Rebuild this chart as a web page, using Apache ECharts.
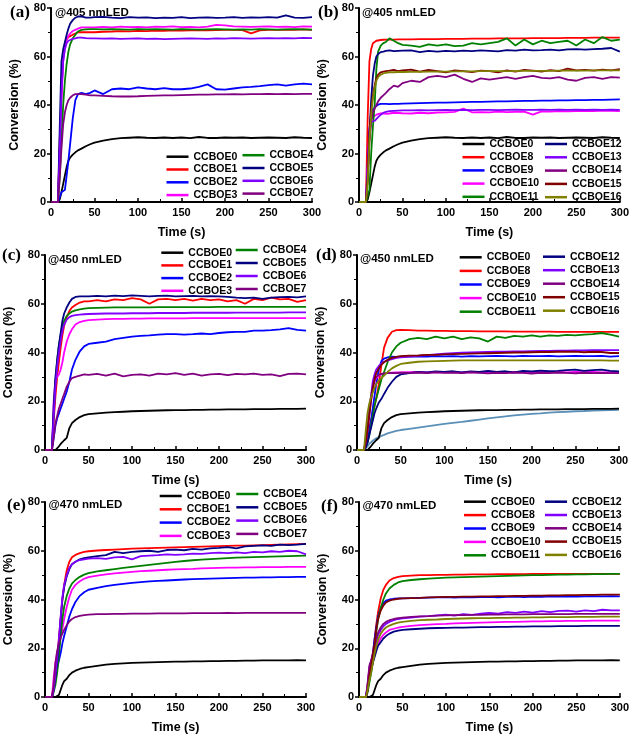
<!DOCTYPE html>
<html><head><meta charset="utf-8">
<script src="https://cdn.jsdelivr.net/npm/echarts@6/dist/echarts.min.js"></script>
<style>html,body{margin:0;padding:0;background:#fff}#c{width:632px;height:735px}</style>
</head><body><div id="c"></div>
<script>
// time points (s) shared by all curves
const T = [0,8,10,12,14,16,18,20,22,25,28,31,35,40,45,50,
  60,70,80,90,100,110,120,130,140,150,160,170,180,190,200,210,220,230,240,250,260,270,280,290,300];
const xTicks = [0,50,100,150,200,250,300];
const yTicks = [0,20,40,60,80];

// ---- @405 nm ----
const ccboe0_405 = [0,0,1,4,7.5,11,14.5,17,18.3,19.5,20.5,21.3,22,23,23.8,24.5,
  25.3,25.9,26.3,26.5,26.7,26.5,26.4,26.6,26.4,26.6,26.3,26.8,26.4,26.4,26.6,26.5,26.6,26.4,26.5,26.6,26.5,26.4,26.7,26.5,26.4];
const a_CCBOE1 = [0,0,25,45,60,65,67,68,68.5,69,69.5,70,70,70,70,70,
  70.2,70.3,70.5,70.4,70.6,70.5,70.7,70.6,70.8,70.7,70.8,70.9,70.8,70.9,71,71,70.9,69.5,70.8,71,71,71.1,71,71.2,71];
const a_CCBOE2 = [0,0,2,4,4.5,5,11,17,24,34.5,42,44.5,45,44.5,45,46,
  44.5,46.5,46.8,46.5,47.3,46.8,46.5,47,46.5,46.5,46.8,47.5,48.5,46.5,46.3,46.8,47.3,47.5,47.8,48.2,48.5,48,48.5,48.8,48.5];
const a_CCBOE3 = [0,0,22,42,58,64,67,68.5,69.5,70.5,71,71.5,72,72,72,72,
  72.2,72,72.3,72.1,72.2,72,72.3,72.2,72.4,72.1,72.2,72,72.3,73,72.8,72.4,72.3,72.2,72.3,72.4,72.2,72.3,72.1,72.4,72.3];
const a_CCBOE4 = [0,0,10,25,40,50,57,62,65,67.5,69,70.3,71,71.2,71.3,71.3,
  71.2,71.3,71.2,71.1,71.3,71.2,71.3,71.2,71.1,71.3,71.2,71.1,71.2,71.3,71.2,71.1,71.2,71.1,71.3,71.2,71.1,71.2,71.3,71.2,71.1];
const a_CCBOE5 = [0,0,30,58,63,66,69,71.5,73.5,75,76,76.5,76.5,76,76,76.2,
  76.3,76,75.8,76.2,76,76.1,75.8,76,75.9,76.2,75.8,76,76.1,75.9,76,76.2,75.9,76.1,76,76.2,76,77,76,75.9,76.2];
const a_CCBOE6 = [0,0,20,45,58,63,65.5,66.5,67,67.3,67.5,67.8,67.8,67.6,67.5,67.5,
  67.4,67.5,67.3,67.4,67.5,67.3,67.4,67.2,67.3,67.4,67.5,67.4,67.3,67.5,67.4,67.6,67.5,67.4,67.5,67.6,67.5,67.6,67.5,67.7,67.6];
const a_CCBOE7 = [0,0,10,22,32,37,40,42,43,44,44.5,44.5,44.5,44.3,44,44,
  43.8,43.6,43.5,43.5,43.6,43.8,43.9,44,44,44.1,44.2,44.3,44.3,44.4,44.4,44.5,44.4,44.5,44.5,44.6,44.5,44.6,44.5,44.6,44.6];

const b_CCBOE8 = [0,0,35,58,63,65.5,66.3,66.5,66.6,66.8,66.9,67,67,67,67.1,67.1,
  67.1,67.2,67.2,67.2,67.3,67.3,67.3,67.4,67.4,67.4,67.5,67.5,67.5,67.5,67.6,67.6,67.6,67.6,67.7,67.7,67.7,67.8,67.8,67.8,67.8];
const b_CCBOE9 = [0,0,15,30,36,38,39,39.8,40.2,40.5,40.5,40.5,40.4,40.5,40.5,40.6,
  40.7,40.8,40.9,41,41,41.1,41.2,41.3,41.3,41.4,41.5,41.5,41.6,41.7,41.7,41.8,41.8,41.9,41.9,42,42,42.1,42.1,42.2,42.3];
const b_CCBOE10 = [0,0,15,30,34,35,35.5,36,36.2,36.5,36.5,36.3,36.5,36.8,36.7,36.6,
  36.5,36.8,36.6,36.9,37,37.2,38.5,37,37.1,37,37.3,37.1,37.2,37.3,36,37.4,37.3,37.5,37.4,37.5,37.6,37.5,37.7,37.6,37.5];
const b_CCBOE11 = [0,0,0,5,20,31,40,55,62,64.5,65.5,66,67.5,66.5,65.5,64.8,
  64.5,64,65,64.5,65,64.3,64.5,65.5,65,65.5,66,67.5,64.5,67,65,66.5,65.5,66,66.5,64.5,67,65.5,68,66.5,67];
const b_CCBOE12 = [0,0,10,28,42,52,57,60,61,61.8,62,62.3,62.5,62.2,62.3,62.4,
  62.5,61.8,62.3,62,62.3,62.1,62.4,62.2,62.5,62.3,62.1,62.6,62.4,62.8,62.5,62.6,62.8,62.5,62.9,63,62.8,63,63.2,63.5,62];
const b_CCBOE13 = [0,0,12,28,33,33.5,33.5,34,35,36,36.8,37.2,37.5,37.6,37.7,37.8,
  37.8,37.9,37.8,37.9,38,37.9,38,37.9,38,38,37.9,38,38.1,38,38,38.1,38,38.1,38,38.1,38,38.1,38,38.1,38];
const b_CCBOE14 = [0,0,10,25,33,37,38.5,40,41.5,43,44,45,46.5,48,47.5,49,
  50,49.5,51.5,52,51.5,52.5,50.8,49.5,51,50.5,51,51.5,50.8,51.5,52,51.2,51,51.5,50.5,50,51.2,51.5,50.8,51.5,51.3];
const b_CCBOE15 = [0,0,10,28,38,44,48,51,52.5,53.5,53.8,54,54.2,54.5,54,54.3,
  54.6,53.8,54.5,54,53.5,54.3,54,53.6,54.2,54,53.5,54.3,53.8,54.5,54.2,53.8,54.4,54,55,54.3,54.5,54.2,54.6,54.3,54.8];
const b_CCBOE16 = [0,0,8,25,36,43,47,50,51.5,52.5,53,53.3,53.5,53.5,53.6,53.6,
  53.7,53.7,53.8,53.8,53.8,53.9,53.9,53.9,54,54,54,54,54,54.1,54.1,54.1,54.1,54.2,54.2,54.2,54.2,54.3,54.3,54.3,54.3];

// ---- @450 nm ----
const ccboe0_450 = [0,0,0,0,0.5,1.5,2.5,3.2,4,5,9,11,12.3,13.5,14.3,14.7,
  15,15.3,15.5,15.7,15.9,16,16.1,16.2,16.3,16.4,16.4,16.5,16.5,16.6,16.6,16.7,16.7,16.7,16.8,16.8,16.8,16.9,16.9,16.9,17];
const c_CCBOE1 = [0,0,12,22,30,36,42,47,51,54.5,57,58.5,59.5,60.5,61,61,
  61.5,61,61.8,61.5,62.3,61.8,60,61.8,62,61.5,62,61.3,62,61.5,61.8,61,61.5,60,62,61.5,62.5,61.8,62,60.8,61.5];
const c_CCBOE2 = [0,0,5,10,13,15,17,19,21,24,28,33,37,40.5,42.5,43.5,
  44,44.5,45.5,46,46.5,46.8,47,47.3,47.5,47.5,47.3,47.5,47.8,47.5,48,48.3,48.5,48.5,49,49,49.2,49.5,50,49.3,49];
const c_CCBOE3 = [0,0,20,29,30,31,33,36,40,44.5,47.5,49.5,51.5,52.5,53,53.3,
  53.5,53.7,53.8,53.8,53.9,53.9,54,54,54,54,54,54.1,54.1,54.1,54.1,54.1,54.1,54.1,54.1,54.1,54.1,54.1,54.1,54.1,54.1];
const c_CCBOE4 = [0,0,15,28,37,43,47,51,53,55,56,56.8,57.3,57.7,58,58.2,
  58.3,58.4,58.5,58.5,58.5,58.5,58.5,58.6,58.6,58.6,58.6,58.6,58.6,58.6,58.7,58.7,58.7,58.7,58.7,58.7,58.7,58.7,58.7,58.7,58.7];
const c_CCBOE5 = [0,0,18,30,37,43,48,53,56,58.5,60.5,62,62.8,63,63,63,
  63.2,63,63.3,63.1,63.4,63.2,63,63.2,63.3,63,63.1,63.2,63,63.1,63,62.8,62.5,62.3,62.5,62,62.5,62.7,62.8,62.6,63];
const c_CCBOE6 = [0,0,14,26,34,40,45,49,51.5,53.5,54.5,55,55.3,55.5,55.7,55.8,
  55.9,56,56,56,56.1,56.1,56.1,56.2,56.2,56.2,56.2,56.3,56.3,56.3,56.3,56.3,56.4,56.4,56.4,56.4,56.4,56.4,56.5,56.5,56.5];
const c_CCBOE7 = [0,0,5,11,14,17,19,21,23,26,28,29.5,30,30.5,31,30.8,
  31.2,30.5,31.3,30.2,30.8,31,30.5,31.3,31,31.5,30.8,31.3,30.5,31,31.2,30.7,31.2,31,31.3,30.8,31,30.3,31.2,31.3,31];

const d_CCBOE8 = [0,0,3,6,9,12,15,18,21,27,35,42,46,48.5,49.2,49.3,
  49.2,49,49,48.9,48.9,48.8,48.8,48.8,48.7,48.7,48.7,48.7,48.6,48.6,48.6,48.6,48.6,48.5,48.5,48.5,48.5,48.5,48.5,48.5,48.5];
const d_CCBOE9 = [0,0,2,5,8,12,17,22,27,33,36.5,37.5,38,38.3,38.2,38.3,
  38.3,38.4,38.3,38.5,38.4,38.5,38.3,38.5,38.4,38.5,38.6,38.5,38.4,38.6,38.5,38.5,38.6,38.4,38.5,38.6,38.5,38.5,38.6,38.3,38.5];
const d_CCBOE10 = [0,0,3,8,14,20,25,28,29.5,30.5,31,31.3,31.5,31.7,31.8,31.8,
  31.9,32,31.8,32,31.9,32,31.8,32,31.9,32.1,32,31.9,32,31.8,32,32.1,31.9,32,31.8,32,31.9,32,31.8,31.9,32];
const d_CCBOE11 = [0,0,1,3,6,10,14,18,21,25,29,32,36,40,42.5,44,
  45.5,46,45.5,46.5,45.8,46.5,45.5,46.2,45.8,44.5,46.5,46,46.8,46.5,47,46.5,47,46.8,47.2,47,47.3,47.5,48,47.3,46.5];
const d_CCBOE12 = [0,0,1,3,6,9,12,15,17,19.5,21,23,25.5,28,30,31,
  31.5,32,31.8,32.2,32,32.3,31.8,32.2,32,32.5,32,32.3,31.8,32.5,32.2,32.6,32.3,32.5,32.8,33,32.5,32.8,33,32.5,32.2];
const d_CCBOE13 = [0,0,3,8,15,22,28,31,33,34.5,35.5,36.2,36.8,37.3,37.8,38,
  38.3,38.6,38.9,39.2,39.5,39.7,39.9,40,40.1,40.2,40.3,40.4,40.5,40.5,40.6,40.7,40.7,40.8,40.8,40.9,40.9,41,41,41,41];
const d_CCBOE14 = [0,0,4,10,16,22,26,28.5,30,30.8,31.2,31.4,31.5,31.6,31.5,31.7,
  31.6,31.8,31.5,31.9,31.6,31.8,31.5,31.9,31.6,31.4,31.7,31.5,31.8,31.6,31.3,31.7,31.5,31.8,31.6,31.4,31.7,31.5,31.6,31.5,31.5];
const d_CCBOE15 = [0,0,3,8,14,20,25,29,31.5,33.5,35,36,37,37.8,38.2,38.5,
  38.7,38.8,39,39,39.2,39.3,39.4,39.5,39.6,39.7,39.8,39.9,40,40,40.1,40.2,40.2,40.3,40.3,40.4,40.1,40.3,40.2,39.8,39.8];
const d_CCBOE16 = [0,0,8,15,19,21.5,23.5,25.5,27,28.5,29.5,30.5,32,33.5,34.5,35.3,
  35.8,36.2,36.4,36.5,36.6,36.7,36.8,36.8,36.8,36.8,36.8,36.8,36.8,36.8,36.8,36.8,36.8,36.8,36.8,36.8,36.8,36.8,36.8,36.7,36.7];
const d_unlabelled = [0,0,0.5,1.5,2.5,3.2,3.8,4.3,4.8,5.3,5.8,6.2,6.8,7.3,7.8,8.2,
  8.7,9.2,9.7,10.2,10.7,11.1,11.5,12,12.5,13,13.4,13.8,14.2,14.5,14.8,15,15.3,15.5,15.7,15.9,16,16.2,16.3,16.4,16.5];

// ---- @470 nm ----
const ccboe0_470 = [0,0,0,0,0.3,0.8,1.5,5,6.5,7.5,9,10,10.8,11.5,12,12.3,
  12.8,13.3,13.6,13.8,14,14.1,14.2,14.3,14.4,14.5,14.5,14.6,14.6,14.7,14.7,14.8,14.8,14.9,14.9,15,15,15,15,15.1,15];
const e_CCBOE1 = [0,0,4,10,16,24,32,40,46,52,55.5,57.3,58.3,59,59.5,59.8,
  60.1,60.3,60.5,60.7,60.9,61,61.1,61.2,61.3,61.4,61.5,61.6,61.7,61.8,61.9,62,62.1,62.1,62.2,62.3,62.4,62.5,62.6,62.7,62.8];
const e_CCBOE2 = [0,0,3,8,12,15,18,22,25,29,33,36,39,41.5,43,44,
  44.8,45.5,46,46.4,46.8,47.1,47.4,47.6,47.8,48,48.2,48.4,48.5,48.6,48.7,48.8,48.9,49,49,49.1,49.1,49.2,49.2,49.3,49.3];
const e_CCBOE3 = [0,0,8,14,18,21,24,28,32,37,41,44,46,47.5,48.5,49.2,
  49.8,50.3,50.7,51,51.3,51.6,51.8,52,52.2,52.4,52.5,52.6,52.8,52.9,53,53.1,53.1,53.2,53.2,53.3,53.3,53.3,53.4,53.4,53.4];
const e_CCBOE4 = [0,0,2,5,10,17,25,32,37,41.5,44.5,46.5,48,49.3,50.2,50.8,
  51.5,52,52.5,53,53.4,53.8,54.2,54.6,55,55.4,55.8,56.1,56.4,56.6,56.8,57,57.2,57.3,57.4,57.5,57.6,57.7,57.8,57.9,58];
const e_CCBOE5 = [0,0,3,8,14,22,32,40,45,49.5,52.5,54.5,55.5,56.5,57,57.3,
  57.8,58.2,59.5,59,59.5,59.8,60,59.5,60.3,60.5,60.2,60.8,60.5,61,61.2,61.5,61,61.8,62,62.2,62,62.5,62.3,62.5,62.8];
const e_CCBOE6 = [0,0,3,9,16,24,33,41,46,50,53,54.5,55.5,56.2,56.5,56.8,
  57,56.7,57.3,57.5,56.5,57.8,58,58.2,58.5,58.3,58.5,58.8,58.7,59,59.2,59,59.3,59,59.5,59.3,59.8,59.5,60,59.8,58.5];
const e_CCBOE7 = [0,0,5,14,19,22,24.5,26,27.5,29.5,31,32,32.8,33.3,33.6,33.8,
  34,34,34.1,34.1,34.2,34.2,34.2,34.3,34.3,34.3,34.3,34.4,34.4,34.4,34.4,34.5,34.4,34.5,34.5,34.5,34.5,34.5,34.5,34.5,34.5];

const f_CCBOE8 = [0,0,4,10,14,18,24,30,35,40.5,44,46,47.8,48.8,49.3,49.6,
  49.8,50,50,50.1,50.1,50.2,50.2,50.3,50.3,50.3,50.4,50.4,50.4,50.4,50.5,50.5,50.5,50.5,50.5,50.5,50.5,50.5,50.5,50.5,50.5];
const f_CCBOE9 = [0,0,4,10,14,18,24,29,33,36.5,38.5,39.5,40,40.3,40.5,40.5,
  40.6,40.7,40.8,40.9,41,40.8,41,40.9,41,41.1,40.9,41.1,41.2,41,41.2,41.1,41.3,41.2,41.3,41.2,41.3,41.4,41.3,41.4,41.3];
const f_CCBOE10 = [0,0,5,12,14,15,17,20,22,24,25.5,26.5,27.5,28,28.5,28.8,
  29.2,29.5,29.7,29.9,30,30.2,30.3,30.4,30.5,30.6,30.7,30.8,30.8,30.9,31,31,31.1,31.1,31.2,31.2,31.2,31.3,31.3,31.3,31.3];
const f_CCBOE11 = [0,0,2,6,10,15,21,27,32,36.5,40,42.5,44.5,46,47,47.5,
  48,48.3,48.6,48.8,49,49.1,49.2,49.3,49.4,49.5,49.6,49.7,49.8,49.9,50,50,50.1,50.2,50.2,50.3,50.3,50.4,50.4,50.5,50.5];
const f_CCBOE12 = [0,0,3,8,11,14,16.5,19,21,22.5,24,25,26,26.8,27.2,27.5,
  27.8,28,28.2,28.3,28.4,28.5,28.5,28.6,28.7,28.7,28.8,28.8,28.9,28.9,29,29,29,29.1,29.1,29.1,29.2,29.2,29.2,29.2,29.2];
const f_CCBOE13 = [0,0,5,12,15,17,20,23,25.5,27.5,29,30,30.8,31.5,32,32.3,
  32.6,33,33.2,33.5,33.8,33.4,34,33.7,34.2,34.5,34.2,34.8,34.5,35,34.6,35.2,34.8,35.3,35.4,35,35.5,35.2,35.8,35.5,35.5];
const f_CCBOE14 = [0,0,6,13,15,18,21,24,26.5,28.5,30,30.8,31.5,32,32.4,32.6,
  32.9,33.1,33.2,33.4,33.5,33.6,33.6,33.7,33.7,33.8,33.8,33.9,33.9,33.9,34,34,34,34,34,34.1,34.1,34.1,34.1,34.1,34.1];
const f_CCBOE15 = [0,0,3,9,13,17,22,28,32,35.5,37.5,38.8,39.5,40,40.3,40.5,
  40.6,40.7,40.9,41,41.1,41.1,41.2,41.2,41.3,41.3,41.4,41.4,41.5,41.5,41.6,41.6,41.7,41.7,41.8,41.8,41.9,41.9,42,42,42];
const f_CCBOE16 = [0,0,3,7,10,14,18,21,23.5,26,27.5,28.5,29.3,30,30.5,30.8,
  31.2,31.5,31.7,31.8,32,32.1,32.2,32.3,32.4,32.4,32.5,32.5,32.6,32.6,32.7,32.7,32.8,32.8,32.8,32.9,32.9,32.9,33,33,33];

const COLORS = {
  CCBOE0:'#000000', CCBOE1:'#ff0000', CCBOE2:'#0000ff', CCBOE3:'#ff00ff',
  CCBOE4:'#008000', CCBOE5:'#000080', CCBOE6:'#8000ff', CCBOE7:'#800080',
  CCBOE8:'#ff0000', CCBOE9:'#0000ff', CCBOE10:'#ff00ff', CCBOE11:'#008000',
  CCBOE12:'#000080', CCBOE13:'#8000ff', CCBOE14:'#800080', CCBOE15:'#800000',
  CCBOE16:'#808000'
};

const panels = [
  {grid:{left:51, top:8, width:261, height:194}, label:'(a)', lx:10, ly:12.5, title:'@405 nmLED', tx:55, ty:12.5,
   series:[['CCBOE0',ccboe0_405],['CCBOE1',a_CCBOE1],['CCBOE2',a_CCBOE2],['CCBOE3',a_CCBOE3],['CCBOE4',a_CCBOE4],['CCBOE5',a_CCBOE5],['CCBOE6',a_CCBOE6],['CCBOE7',a_CCBOE7]],
   legends:[[['CCBOE0','CCBOE1','CCBOE2','CCBOE3'],193.5,156.7,12.8],[['CCBOE4','CCBOE5','CCBOE6','CCBOE7'],269.5,155.2,12.8]]},
  {grid:{left:359, top:8, width:261, height:194}, label:'(b)', lx:318, ly:12.5, title:'@405 nmLED', tx:362, ty:12.5,
   series:[['CCBOE0',ccboe0_405],['CCBOE8',b_CCBOE8],['CCBOE9',b_CCBOE9],['CCBOE10',b_CCBOE10],['CCBOE11',b_CCBOE11],['CCBOE12',b_CCBOE12],['CCBOE13',b_CCBOE13],['CCBOE14',b_CCBOE14],['CCBOE15',b_CCBOE15],['CCBOE16',b_CCBOE16]],
   legends:[[['CCBOE0','CCBOE8','CCBOE9','CCBOE10','CCBOE11'],489.5,144,13.2],[['CCBOE12','CCBOE13','CCBOE14','CCBOE15','CCBOE16'],572,144,13.3]]},
  {grid:{left:45, top:255, width:261, height:195}, label:'(c)', lx:2, ly:256, title:'@450 nmLED', tx:48, ty:260,
   series:[['CCBOE0',ccboe0_450],['CCBOE1',c_CCBOE1],['CCBOE2',c_CCBOE2],['CCBOE3',c_CCBOE3],['CCBOE4',c_CCBOE4],['CCBOE5',c_CCBOE5],['CCBOE6',c_CCBOE6],['CCBOE7',c_CCBOE7]],
   legends:[[['CCBOE0','CCBOE1','CCBOE2','CCBOE3'],188.3,252.7,12.7],[['CCBOE4','CCBOE5','CCBOE6','CCBOE7'],262.7,250,13]]},
  {grid:{left:357, top:255, width:262, height:195}, label:'(d)', lx:316, ly:256, title:'@450 nmLED', tx:360, ty:259,
   series:[['',d_unlabelled,'#5a8fb8'],['CCBOE0',ccboe0_450],['CCBOE8',d_CCBOE8],['CCBOE9',d_CCBOE9],['CCBOE10',d_CCBOE10],['CCBOE11',d_CCBOE11],['CCBOE12',d_CCBOE12],['CCBOE13',d_CCBOE13],['CCBOE14',d_CCBOE14],['CCBOE15',d_CCBOE15],['CCBOE16',d_CCBOE16]],
   legends:[[['CCBOE0','CCBOE8','CCBOE9','CCBOE10','CCBOE11'],486.7,257.3,13.6],[['CCBOE12','CCBOE13','CCBOE14','CCBOE15','CCBOE16'],570,256.7,13.5]]},
  {grid:{left:45, top:502, width:261, height:195}, label:'(e)', lx:7, ly:506, title:'@470 nmLED', tx:48.5, ty:505,
   series:[['CCBOE0',ccboe0_470],['CCBOE1',e_CCBOE1],['CCBOE2',e_CCBOE2],['CCBOE3',e_CCBOE3],['CCBOE4',e_CCBOE4],['CCBOE5',e_CCBOE5],['CCBOE6',e_CCBOE6],['CCBOE7',e_CCBOE7]],
   legends:[[['CCBOE0','CCBOE1','CCBOE2','CCBOE3'],186.7,496,13.3],[['CCBOE4','CCBOE5','CCBOE6','CCBOE7'],263.3,494,13.3]]},
  {grid:{left:359, top:502, width:261, height:195}, label:'(f)', lx:321, ly:507, title:'@470 nmLED', tx:362.5, ty:506,
   series:[['CCBOE0',ccboe0_470],['CCBOE8',f_CCBOE8],['CCBOE9',f_CCBOE9],['CCBOE10',f_CCBOE10],['CCBOE11',f_CCBOE11],['CCBOE12',f_CCBOE12],['CCBOE13',f_CCBOE13],['CCBOE14',f_CCBOE14],['CCBOE15',f_CCBOE15],['CCBOE16',f_CCBOE16]],
   legends:[[['CCBOE0','CCBOE8','CCBOE9','CCBOE10','CCBOE11'],491,501.7,13.4],[['CCBOE12','CCBOE13','CCBOE14','CCBOE15','CCBOE16'],572,501.7,13.3]]}
];

const SANS = '"Liberation Sans", Arial, sans-serif';
const grids=[], xAxes=[], yAxes=[], series=[], legends=[], graphics=[];
panels.forEach((p,i)=>{
  grids.push(Object.assign({containLabel:false}, p.grid));
  xAxes.push({type:'value', gridIndex:i, min:xTicks[0], max:xTicks[xTicks.length-1], interval:xTicks[1]-xTicks[0],
    name:'Time (s)', nameLocation:'middle', nameGap:24,
    nameTextStyle:{fontFamily:SANS, fontWeight:'bold', fontSize:12.5, color:'#000'},
    axisLine:{lineStyle:{color:'#000', width:2}}, axisTick:{inside:true, length:4, lineStyle:{width:1.5,color:'#000'}},
    minorTick:{show:true, splitNumber:2, length:3, lineStyle:{color:'#000', width:1}},
    splitLine:{show:false}, axisLabel:{fontFamily:SANS, fontWeight:'bold', fontSize:11, color:'#000', margin:5}});
  yAxes.push({type:'value', gridIndex:i, min:yTicks[0], max:yTicks[yTicks.length-1], interval:yTicks[1]-yTicks[0],
    name:'Conversion (%)', nameLocation:'middle', nameGap:30, nameRotate:90,
    nameTextStyle:{fontFamily:SANS, fontWeight:'bold', fontSize:12.5, color:'#000'},
    axisLine:{lineStyle:{color:'#000', width:2}}, axisTick:{inside:false, length:4, lineStyle:{width:1.5,color:'#000'}},
    minorTick:{show:true, splitNumber:2, length:3, lineStyle:{color:'#000', width:1}},
    splitLine:{show:false}, axisLabel:{fontFamily:SANS, fontWeight:'bold', fontSize:11, color:'#000', margin:5}});
  p.series.forEach(([name, vals, col])=>{
    const c = col || COLORS[name];
    series.push({type:'line', name: name, xAxisIndex:i, yAxisIndex:i, symbol:'none', animation:false,
      data: T.map((t,k)=>[t, vals[k]]).filter(d=>d[1]!==undefined),
      lineStyle:{width:1.8, color:c}, itemStyle:{color:c}});
  });
  p.legends.forEach(([names, textLeft, firstCenter, pitch])=>{
    legends.push({data:names, orient:'vertical', left:textLeft-5-22, top:firstCenter-6,
      itemWidth:22, itemHeight:8, itemGap:pitch-12, padding:0, selectedMode:false,
      lineStyle:{width:2.5}, icon:'path://M0,0 L22,0 L22,2.5 L0,2.5 Z',
      textStyle:{fontFamily:SANS, fontWeight:'bold', fontSize:10.5, color:'#000', lineHeight:12}});
  });
  graphics.push({type:'text', x:p.lx, y:p.ly, style:{text:p.label, font:'bold 17px "Liberation Serif", "Times New Roman", serif', fill:'#000', verticalAlign:'middle', align:'left'}});
  graphics.push({type:'text', x:p.tx, y:p.ty, style:{text:p.title, font:'bold 11.5px "Liberation Sans", Arial, sans-serif', fill:'#000', verticalAlign:'middle', align:'left'}});
});

const chart = echarts.init(document.getElementById('c'), null, {renderer:'canvas'});
chart.setOption({animation:false, backgroundColor:'#fff', grid:grids, xAxis:xAxes, yAxis:yAxes, series:series, legend:legends, graphic:graphics});
</script></body></html>
